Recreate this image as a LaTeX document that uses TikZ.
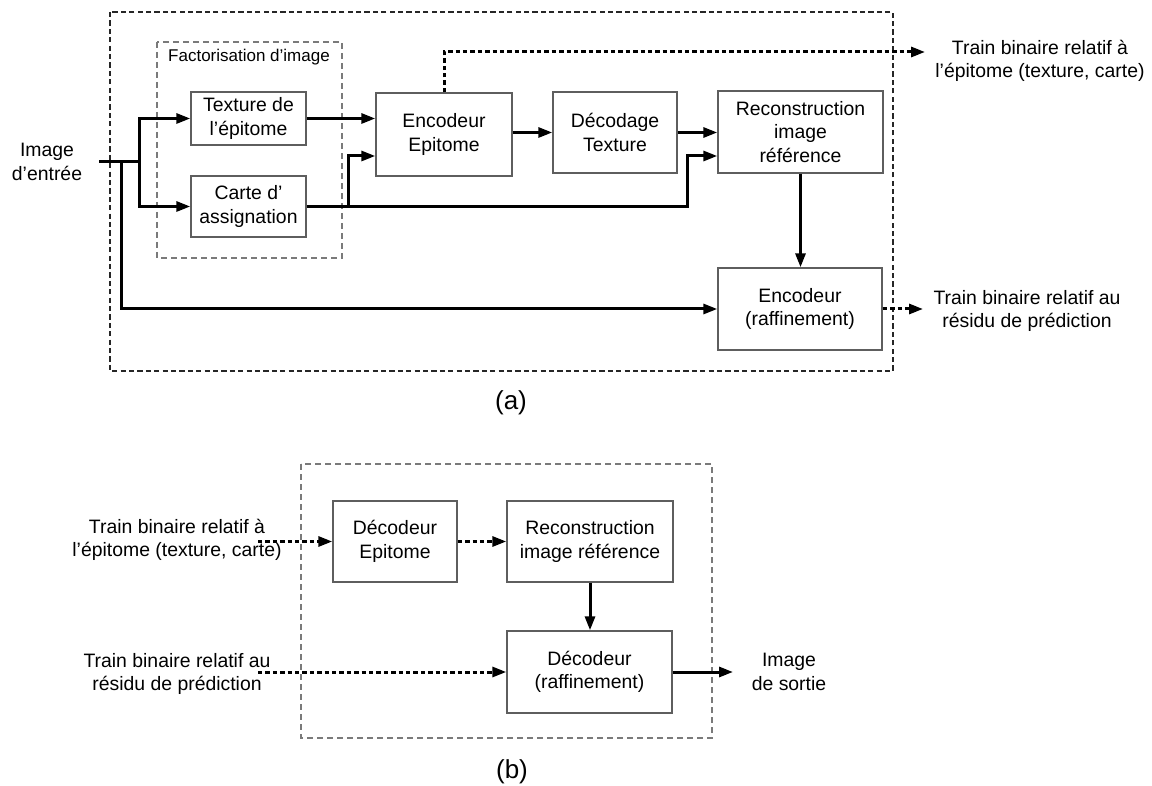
\documentclass[tikz,border=0pt]{standalone}
\usepackage{fontspec}
\setmainfont{Liberation Sans}
\usepackage{xcolor}
\usetikzlibrary{arrows.meta,calc}
\definecolor{EpiGray}{HTML}{5E5E5E}
\definecolor{EpiFrame}{HTML}{7A7A7A}
\newcommand{\epfont}{\fontsize{9.7}{11.7}\selectfont}
\tikzset{
  epbox/.style={
    draw=EpiGray,
    line width=0.7pt,
    align=center,
    inner sep=2pt,
    font=\epfont
  },
  eplabel/.style={align=center, inner sep=1pt, font=\epfont},
  epflow/.style={-{Triangle[length=7pt,width=5pt]}, line width=1.5pt},
  epbits/.style={epflow, dash pattern=on 2.2pt off 1.5pt},
  epframe/.style={draw=black!85, line width=0.55pt, dash pattern=on 2.6pt off 1.6pt},
  epgroup/.style={draw=EpiFrame, line width=0.55pt, dash pattern=on 3pt off 2pt}
}

\begin{document}
\begin{tikzpicture}[x=0.5pt, y=-0.5pt]
  \useasboundingbox (0,0) rectangle (1152,786);

  % (a) codeur
  \draw[epframe] (110,12) rectangle (893,371);
  \draw[epgroup] (157,42) rectangle (342,258);
  \node[eplabel, font=\fontsize{8.5}{10}\selectfont] (fact) at (249,57) {Factorisation d’image};
  \node[eplabel] (in) at (47,162) {Image\\d’entrée};
  \node[epbox, minimum width=57.5pt, minimum height=26.5pt] (tex) at (248.5,118.5) {Texture de\\l’épitome};
  \node[epbox, minimum width=57.5pt, minimum height=30.5pt] (carte) at (248.5,206.5) {Carte d’\\assignation};
  \node[epbox, minimum width=68pt, minimum height=41.5pt] (enc) at (444,134.5) {Encodeur\\Epitome};
  \node[epbox, minimum width=62pt, minimum height=40.5pt] (dec) at (615,132.5) {Décodage\\Texture};
  \node[epbox, minimum width=82.5pt, minimum height=41pt] (rec) at (800.5,132) {Reconstruction\\image\\référence};
  \node[epbox, minimum width=82pt, minimum height=41pt] (raf) at (800,309) {Encodeur\\(raffinement)};
  \node[eplabel] (bitsA) at (1040,61) {Train binaire relatif à\\l’épitome (texture, carte)};
  \node[eplabel] (bitsB) at (1027,311) {Train binaire relatif au\\résidu de prédiction};
  \node[eplabel, font=\fontsize{13}{15}\selectfont] (capa) at (511,403) {(a)};

  \coordinate (start) at (99,162);
  \coordinate (tap) at (121,162);
  \coordinate (split) at (139,162);
  \coordinate (endA) at (925,52);
  \coordinate (endB) at (923,309);

  \draw[line width=1.5pt] (start) -- (split);
  \draw[epflow] (split) |- (tex.west);
  \draw[epflow] (split) |- (carte.west);
  \draw[epflow] (tap) |- (raf.west);
  \draw[epflow] (tex.east) -- (tex.east -| enc.west);
  \draw[epflow] ($(carte.east)+(42,0)$) |- ($(enc.west)+(0,21.5)$);
  \draw[epflow] (carte.east) -| ($(rec.west)+(-30,24)$) -- ($(rec.west)+(0,24)$);
  \draw[epflow] ($(enc.east)+(0,-2)$) -- ($(enc.east -| dec.west)+(0,-2)$);
  \draw[epflow] (dec.east) -- (dec.east -| rec.west);
  \draw[epflow] (rec.south) -- (rec.south |- raf.north);
  \draw[epbits] (enc.north) |- (endA);
  \draw[epbits] (raf.east) -- (endB);

  % (b) decodeur
  \draw[epgroup] (301,464) rectangle (712,738);
  \node[eplabel] (srcA) at (177,540) {Train binaire relatif à\\l’épitome (texture, carte)};
  \node[eplabel] (srcB) at (177,674) {Train binaire relatif au\\résidu de prédiction};
  \node[epbox, minimum width=62pt, minimum height=40.5pt] (ddec) at (395,541.5) {Décodeur\\Epitome};
  \node[epbox, minimum width=83pt, minimum height=40.5pt] (rec2) at (590,541.5) {Reconstruction\\image référence};
  \node[epbox, minimum width=82.5pt, minimum height=41pt] (dref) at (589.5,672) {Décodeur\\(raffinement)};
  \node[eplabel] (outimg) at (789,672) {Image\\de sortie};
  \node[eplabel, font=\fontsize{13}{15}\selectfont] (capb) at (512,772) {(b)};

  \coordinate (inA) at (258,541.5);
  \coordinate (inB) at (258,672);
  \coordinate (outB) at (733,672);

  \draw[epbits] (inA) -- (ddec.west);
  \draw[epbits] (ddec.east) -- (rec2.west);
  \draw[epflow] (rec2.south) -- (rec2.south |- dref.north);
  \draw[epbits] (inB) -- (dref.west);
  \draw[epflow] (dref.east) -- (outB);
\end{tikzpicture}
\end{document}
